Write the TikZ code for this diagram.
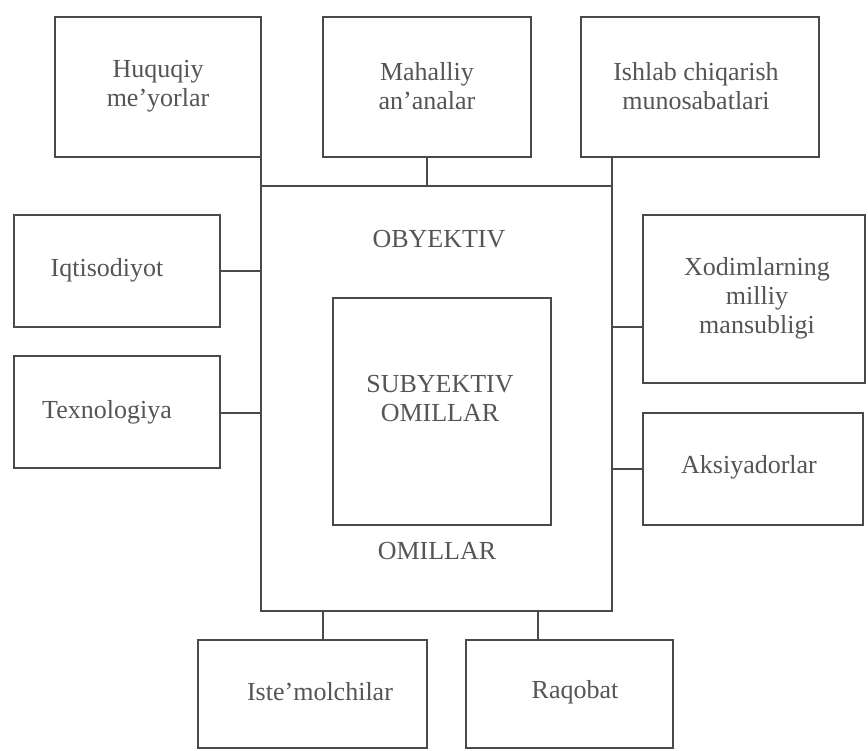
\documentclass[tikz,border=0pt]{standalone}
\usepackage{fontspec}
\setmainfont{Liberation Serif}
\definecolor{lineC}{HTML}{4A4A4A}
\definecolor{textC}{HTML}{555555}
\tikzset{
  box/.style={draw=lineC, line width=1.4pt, rectangle, inner sep=0pt, outer sep=0pt},
  txt/.style={text=textC, align=center, inner sep=0pt, font=\fontsize{26}{29}\selectfont},
  conn/.style={draw=lineC, line width=1.4pt}
}
\newcommand{\mybox}[5]{% name, x1, y1, x2, y2
  \node[box, minimum width={(#4-#2)*1pt}, minimum height={(#5-#3)*1pt}] (#1) at ({(#2+#4)/2},{(#3+#5)/2}) {};
}
\begin{document}
\begin{tikzpicture}[x=1pt,y=-1pt]
\fill[white] (0,0) rectangle (868,751);
\useasboundingbox (0,0) rectangle (868,751);

% boxes
\mybox{huq}{55}{17}{261}{157}
\mybox{mah}{323}{17}{531}{157}
\mybox{ish}{581}{17}{819}{157}
\mybox{big}{261}{186}{612}{611}
\mybox{sub}{333}{298}{551}{525}
\mybox{iqt}{14}{215}{220}{327}
\mybox{tex}{14}{356}{220}{468}
\mybox{xod}{643}{215}{865}{383}
\mybox{aks}{643}{413}{863}{525}
\mybox{ist}{198}{640}{427}{748}
\mybox{raq}{466}{640}{673}{748}

% texts
\node[txt] (huqT) at (158,86) {Huquqiy\\me’yorlar};
\node[txt] (mahT) at (427,86) {Mahalliy\\an’analar};
\node[txt] (ishT) at (696,86) {Ishlab chiqarish\\munosabatlari};
\node[txt] (obyT) at (439,239) {OBYEKTIV};
\node[txt] (subT) at (440,399) {SUBYEKTIV\\OMILLAR};
\node[txt] (omiT) at (437,551) {OMILLAR};
\node[txt] (iqtT) at (107,270) {Iqtisodiyot};
\node[txt] (texT) at (107,412) {Texnologiya};
\node[txt] (xodT) at (757,298) {Xodimlarning\\milliy\\mansubligi};
\node[txt] (aksT) at (749,467) {Aksiyadorlar};
\node[txt] (istT) at (320,692) {Iste’molchilar};
\node[txt] (raqT) at (575,692) {Raqobat};

% helper coordinates
\coordinate (yx) at (0,327);
\coordinate (xi) at (323,0);
\coordinate (xr) at (538,0);
\coordinate (yt) at (0,413);

% connectors
\draw[conn] (big.north west |- huq.south) -- (big.north west);
\draw[conn] (mah.south) -- (mah.south |- big.north);
\draw[conn] (big.north east) -- (big.north east |- ish.south);
\draw[conn] (iqt.east) -- (iqt.east -| big.west);
\draw[conn] (tex.east |- yt) -- (big.west |- yt);
\draw[conn] (big.east |- yx) -- (xod.west |- yx);
\draw[conn] (big.east |- aks.west) -- (aks.west);
\draw[conn] (xi |- big.south) -- (xi |- ist.north);
\draw[conn] (xr |- big.south) -- (xr |- raq.north);
\end{tikzpicture}
\end{document}
